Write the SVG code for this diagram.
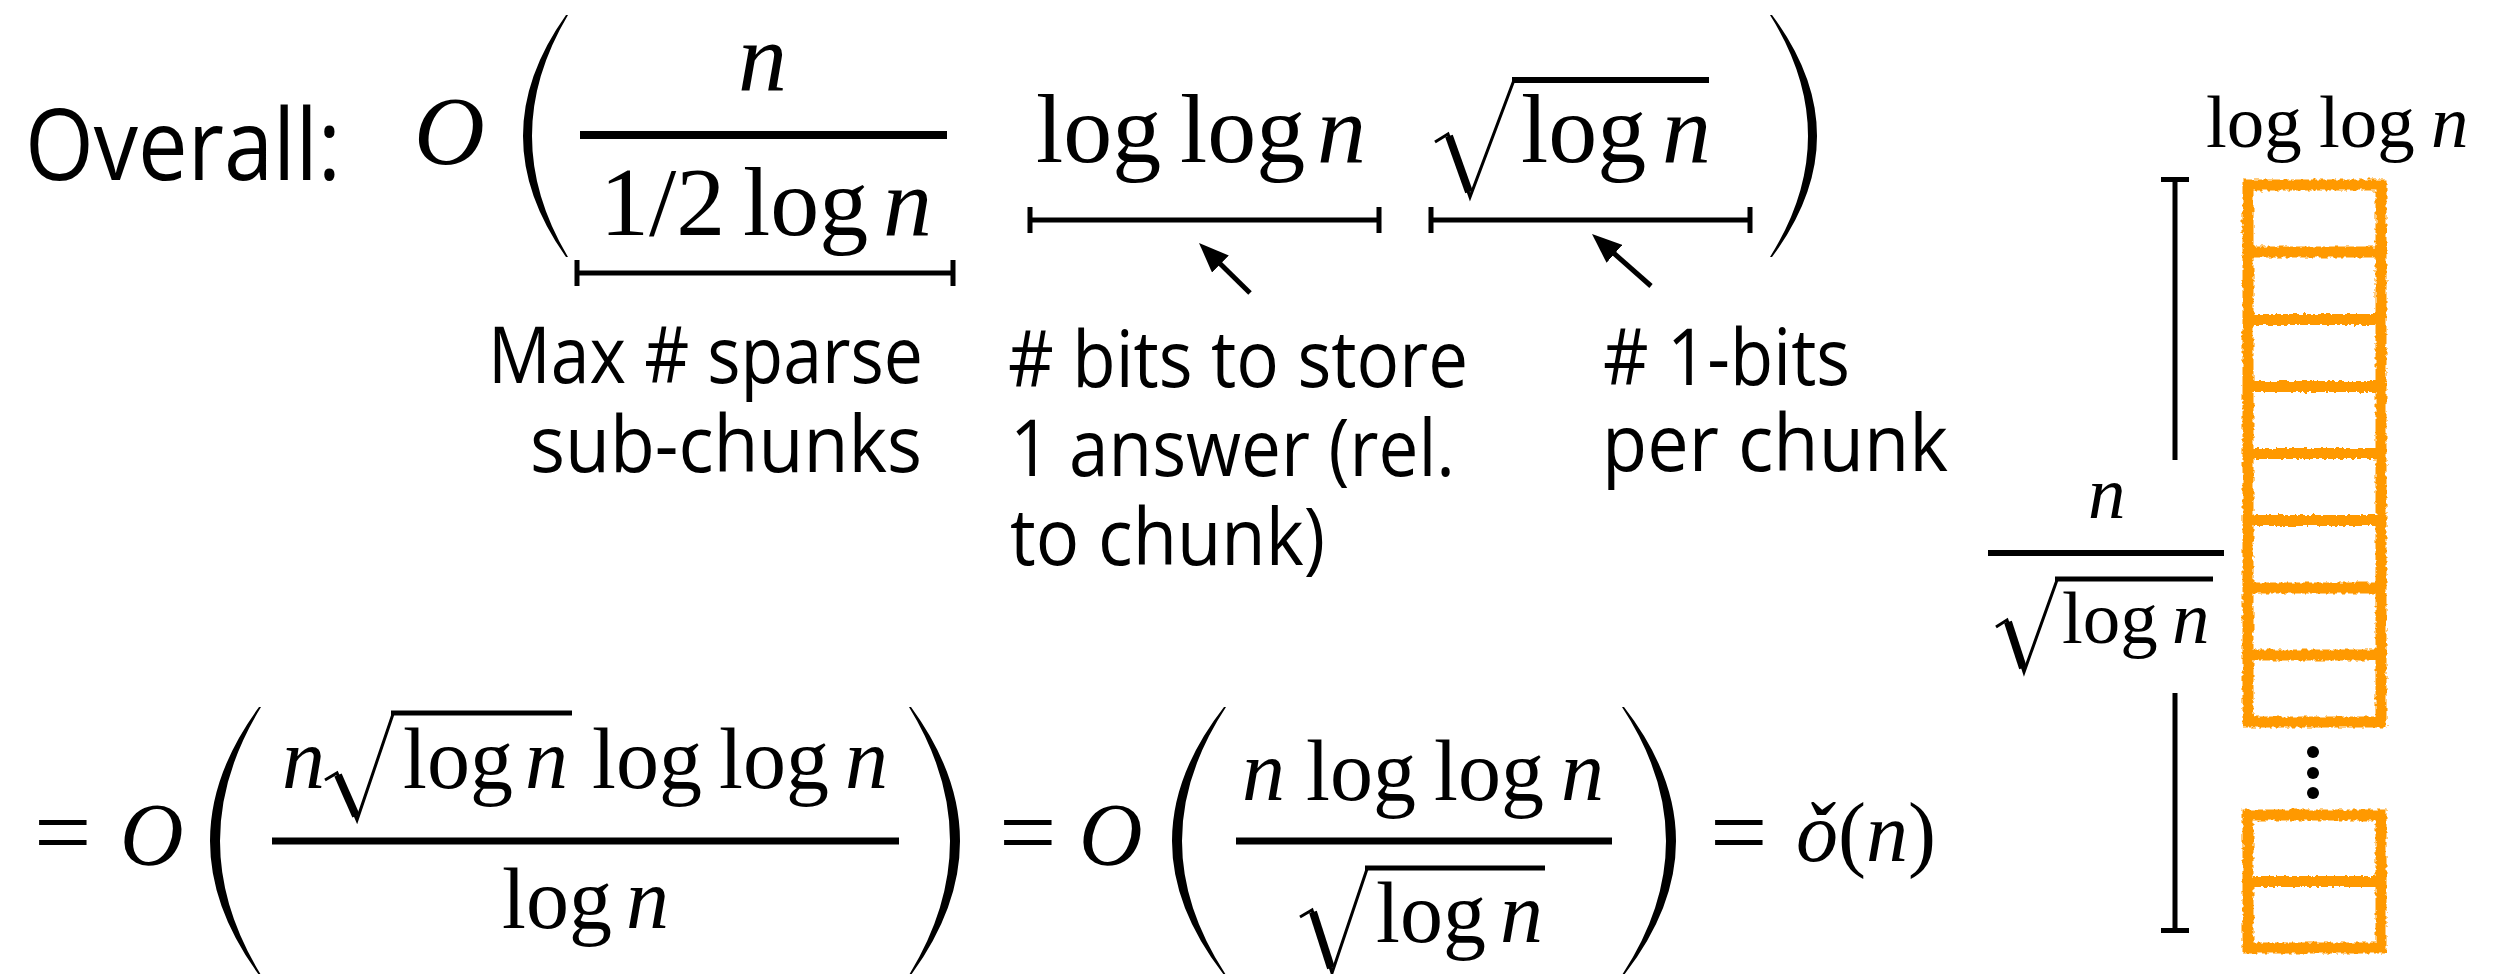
<svg xmlns="http://www.w3.org/2000/svg" width="2501" height="974" viewBox="0 0 2501 974">
<defs>
<style>
.m{font-family:"Liberation Serif","Times New Roman",serif;fill:#000}
.i{font-style:italic}
.lab{font-family:"Open Sans","Noto Sans",sans-serif;fill:#000}
.ln{stroke:#000;stroke-width:5;fill:none}
.rad{stroke:#000;stroke-width:3;fill:none;stroke-linejoin:miter}
.radk{stroke:#000;stroke-width:8;fill:none;stroke-linecap:butt}
.box{fill:none;stroke:#FF9900;stroke-width:11}
</style>
<marker id="ah" markerUnits="userSpaceOnUse" markerWidth="30" markerHeight="24" viewBox="0 0 30 24" refX="10" refY="12" orient="auto"><path d="M0,0 L30,12 L0,24 Z" fill="#000"/></marker>
<filter id="rough" filterUnits="userSpaceOnUse" x="2200" y="150" width="240" height="830"><feTurbulence type="fractalNoise" baseFrequency="0.25" numOctaves="2" seed="3" result="noise"/><feDisplacementMap in="SourceGraphic" in2="noise" scale="5" xChannelSelector="R" yChannelSelector="G"/></filter>
</defs>
<rect width="2501" height="974" fill="#fff"/>

<g id="overall-label">
<text class="lab" x="25" y="180" font-size="98" textLength="316" lengthAdjust="spacingAndGlyphs">Overall:</text>
</g>

<g id="expr-top">
<text class="m i" x="414" y="164" font-size="98">O</text>
<path d="M566,15 Q480,136 566,257 L568,257 Q496,136 568,15 Z"/>
<text class="m i" x="738" y="90" font-size="98">n</text>
<rect x="580" y="131" width="367" height="8"/>
<text class="m" y="235" font-size="98"><tspan x="600">1/2</tspan><tspan x="743">log</tspan><tspan x="883" class="i">n</tspan></text>
<text class="m" y="162" font-size="98"><tspan x="1036">log</tspan><tspan x="1180">log</tspan><tspan x="1317" class="i">n</tspan></text>
<polyline class="rad" points="1435,142 1448,134 1470,197 1514,80"/>
<line class="radk" x1="1449" y1="136" x2="1469" y2="192"/>
<rect x="1512" y="77" width="197" height="6"/>
<text class="m" y="162" font-size="98"><tspan x="1521">log</tspan><tspan x="1662" class="i">n</tspan></text>
<path d="M1772,15 Q1862,136 1772,257 L1770,257 Q1846,136 1770,15 Z"/>
</g>

<g id="label-sparse">
<text class="lab" x="488" y="383" font-size="78" textLength="435" lengthAdjust="spacingAndGlyphs">Max # sparse</text>
<text class="lab" x="530" y="472" font-size="78" textLength="392" lengthAdjust="spacingAndGlyphs">sub-chunks</text>
</g>
<g id="label-bits">
<text class="lab" x="1008" y="387" font-size="78" textLength="460" lengthAdjust="spacingAndGlyphs"># bits to store</text>
<text class="lab" x="1010" y="476" font-size="78" textLength="445" lengthAdjust="spacingAndGlyphs">1 answer (rel.</text>
<text class="lab" x="1010" y="565" font-size="78" textLength="315" lengthAdjust="spacingAndGlyphs">to chunk)</text>
</g>
<g id="label-onebits">
<text class="lab" x="1603" y="385" font-size="78" textLength="247" lengthAdjust="spacingAndGlyphs"># 1-bits</text>
<text class="lab" x="1602" y="471" font-size="78" textLength="346" lengthAdjust="spacingAndGlyphs">per chunk</text>
</g>

<g id="expr-bottom">
<text class="m" x="34" y="866" font-size="102">=</text>
<text class="m i" x="120" y="864" font-size="88">O</text>
<path d="M259,707 Q161,841 259,975 L261,975 Q179,841 261,707 Z"/>
<text class="m i" x="282" y="788" font-size="86">n</text>
<polyline class="rad" points="325,780 337,773 357,820 393,714"/>
<line class="radk" x1="338" y1="775" x2="356" y2="816"/>
<rect x="391" y="710.5" width="181" height="5"/>
<text class="m" y="788" font-size="86"><tspan x="403">log</tspan><tspan x="525" class="i">n</tspan><tspan x="592">log</tspan><tspan x="719">log</tspan><tspan x="845" class="i">n</tspan></text>
<rect x="272" y="837.5" width="627" height="7"/>
<text class="m" y="928" font-size="86"><tspan x="502">log</tspan><tspan x="626" class="i">n</tspan></text>
<path d="M911,707 Q1009,841 911,975 L909,975 Q991,841 909,707 Z"/>

<text class="m" x="999" y="866" font-size="102">=</text>
<text class="m i" x="1079" y="864" font-size="88">O</text>
<path d="M1224,707 Q1120,841 1224,975 L1226,975 Q1138,841 1226,707 Z"/>
<text class="m" y="800" font-size="86"><tspan x="1242" class="i">n</tspan><tspan x="1306">log</tspan><tspan x="1434">log</tspan><tspan x="1561" class="i">n</tspan></text>
<rect x="1236" y="837.5" width="376" height="7"/>
<polyline class="rad" points="1300,917 1312,910 1332,973 1367,869"/>
<line class="radk" x1="1313" y1="912" x2="1331" y2="968"/>
<rect x="1365" y="865.5" width="180" height="5"/>
<text class="m" y="942" font-size="86"><tspan x="1376">log</tspan><tspan x="1500" class="i">n</tspan></text>
<path d="M1624,707 Q1728,841 1624,975 L1622,975 Q1710,841 1622,707 Z"/>

<text class="m" x="1710" y="866" font-size="102">=</text>
<text class="m" x="1796" y="861" font-size="84"><tspan class="i">ǒ</tspan>(<tspan class="i">n</tspan>)</text>
</g>

<g id="chunk-width-label">
<text class="m" y="147" font-size="75"><tspan x="2206">log</tspan><tspan x="2319">log</tspan><tspan x="2431" class="i">n</tspan></text>
</g>

<g id="chunk-count-label">
<text class="m i" x="2088" y="518" font-size="75">n</text>
<rect x="1988" y="550" width="236" height="6"/>
<polyline class="rad" points="1996,627 2007,620 2024,672 2057,580"/>
<line class="radk" x1="2008" y1="622" x2="2023" y2="668"/>
<rect x="2055" y="576.5" width="158" height="5"/>
<text class="m" y="643" font-size="75"><tspan x="2062">log</tspan><tspan x="2172" class="i">n</tspan></text>
</g>

<g id="chunk-stack" filter="url(#rough)">
<rect class="box" x="2248" y="185" width="133" height="537"/>
<path class="box" d="M2248,252 H2381 M2248,319.5 H2381 M2248,386.5 H2381 M2248,453.5 H2381 M2248,520.5 H2381 M2248,588 H2381 M2248,655 H2381"/>
<rect class="box" x="2248" y="815" width="133" height="133"/>
<path class="box" d="M2248,881.5 H2381"/>
</g>
<g id="ellipsis">
<circle cx="2313" cy="752" r="6"/>
<circle cx="2313" cy="773" r="6"/>
<circle cx="2313" cy="793" r="6"/>
</g>

<g id="connectors">
<path class="ln" d="M577,273 H953 M577,260 V286 M953,260 V286"/>
<path class="ln" d="M1030,220 H1379 M1030,207 V233 M1379,207 V233"/>
<path class="ln" d="M1431,220 H1750 M1431,207 V233 M1750,207 V233"/>
<line class="ln" x1="1250" y1="293" x2="1213.3" y2="257" marker-end="url(#ah)"/>
<line class="ln" x1="1651" y1="286" x2="1607" y2="247.2" marker-end="url(#ah)"/>
<path class="ln" d="M2175,177 V460 M2161,179.5 H2189"/>
<path class="ln" d="M2175,693 V933 M2161,930.5 H2189"/>
</g>
</svg>
